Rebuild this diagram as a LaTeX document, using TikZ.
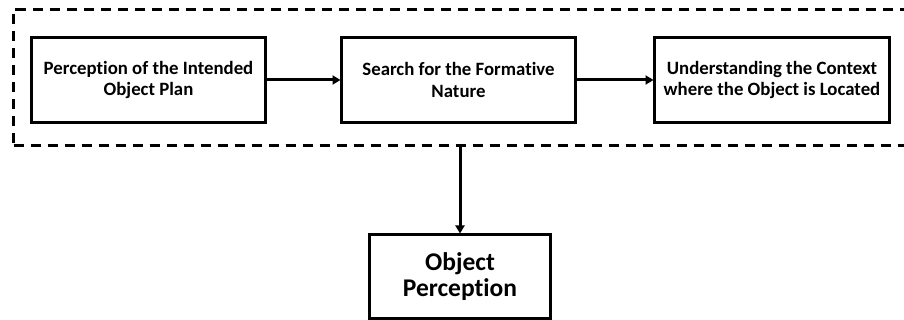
\documentclass[tikz,border=0pt]{standalone}
\usepackage{fontspec}
\setmainfont{Carlito}[RawFeature=-liga]
\usetikzlibrary{arrows.meta}
\begin{document}
\begin{tikzpicture}[x=1pt, y=-1pt, line join=miter, >={Triangle[length=8pt, width=9pt]}]
	\tikzset{stagebox/.style={draw, line width=3pt, align=center, inner sep=0pt, font=\fontsize{18.8}{21.5}\selectfont\bfseries}}
	\tikzset{flow/.style={->, line width=3pt, shorten >=-0.5pt}}
	\useasboundingbox (0,0) rectangle (904,320);
	\node[draw, dashed, line width=2.5pt, dash pattern=on 10pt off 7pt, minimum width=907pt, minimum height=136pt, inner sep=0pt] (frame) at (467,77.5) {};
	\node[stagebox, minimum width=234pt, minimum height=85pt] (plan) at (148.5,80) {Perception of the Intended\\Object Plan};
	\node[stagebox, minimum width=234pt, minimum height=85pt] (nature) at (458.5,80) {Search for the Formative\\Nature};
	\node[stagebox, minimum width=235pt, minimum height=85pt] (context) at (772,80) {Understanding the Context\\where the Object is Located};
	\node[stagebox, minimum width=181pt, minimum height=84pt, font=\fontsize{25.5}{26}\selectfont\bfseries] (objper) at (460,276.5) {Object\\Perception};
	\draw[flow] (plan) -- (nature);
	\draw[flow] (nature) -- (context);
	\draw[flow] (frame.south -| objper.north) -- (objper.north);
\end{tikzpicture}
\end{document}
